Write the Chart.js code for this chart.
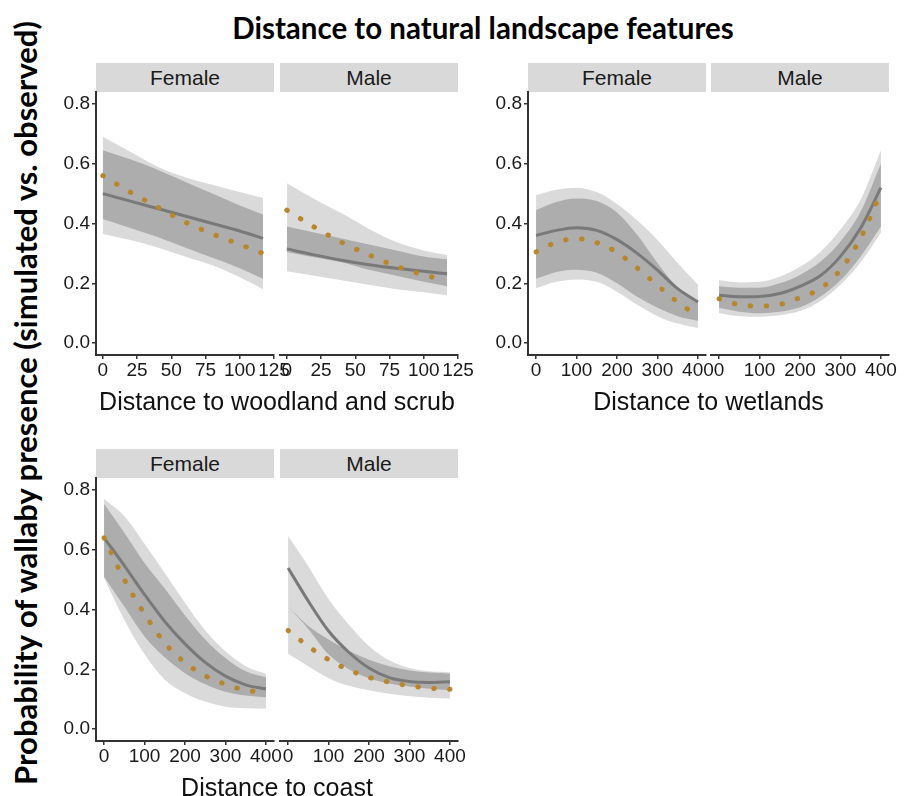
<!DOCTYPE html>
<html>
<head>
<meta charset="utf-8">
<script src="https://cdn.jsdelivr.net/npm/chart.js@4.4.1/dist/chart.umd.min.js"></script>
<style>
  body { margin: 0; width: 909px; height: 796px; position: relative; overflow: hidden; background: #fff; font-family: 'Liberation Sans', Arial, sans-serif; }
  canvas { position: absolute; }
  .strip { position: absolute; background: #d9d9d9; color: #1a1a1a; font-size: 21px; text-align: center; }
  .xtitle { position: absolute; font-size: 25px; color: #111; white-space: nowrap; transform: translate(-50%, -50%); }
  #title { position: absolute; left: 483px; top: 27px; transform: translate(-50%, -50%); font-family: Lato, sans-serif; font-weight: bold; font-size: 29.5px; white-space: nowrap; color: #000; }
  #ytitle { position: absolute; left: 25px; top: 403px; transform: translate(-50%, -50%) rotate(-90deg); font-family: Lato, sans-serif; font-weight: bold; font-size: 31px; white-space: nowrap; color: #000; }
</style>
</head>
<body>
<div id="title"></div>
<div id="ytitle"></div>
<script>
const mainTitle = 'Distance to natural landscape features'
const yTitle = 'Probability of wallaby presence (simulated vs. observed)'
const facets = ['Female', 'Male']
const xTitles = ['Distance to woodland and scrub', 'Distance to wetlands', 'Distance to coast']

// tick labels
const woodTicks = [0, 25, 50, 75, 100, 125]
const distTicks = [0, 100, 200, 300, 400]
const probTicks = [0, 0.2, 0.4, 0.6, 0.8]

const woodDist = [0, 20, 40, 60, 80, 100, 117]
const dist400 = [0, 50, 100, 150, 200, 250, 300, 350, 400]

// woodland and scrub - female
const woodF_sim = [0.50, 0.475, 0.45, 0.425, 0.40, 0.375, 0.35]
const woodF_obs = [0.56, 0.505, 0.455, 0.405, 0.365, 0.33, 0.30]
const woodF_outerLo = [0.365, 0.345, 0.32, 0.29, 0.26, 0.22, 0.18]
const woodF_outerHi = [0.69, 0.64, 0.59, 0.555, 0.53, 0.505, 0.485]
const woodF_innerLo = [0.415, 0.385, 0.355, 0.32, 0.285, 0.25, 0.215]
const woodF_innerHi = [0.645, 0.615, 0.58, 0.54, 0.5, 0.46, 0.43]

// woodland and scrub - male
const woodM_sim = [0.315, 0.295, 0.277, 0.262, 0.25, 0.24, 0.232]
const woodM_obs = [0.445, 0.388, 0.337, 0.295, 0.257, 0.228, 0.21]
const woodM_outerLo = [0.24, 0.225, 0.21, 0.195, 0.18, 0.17, 0.16]
const woodM_outerHi = [0.535, 0.482, 0.434, 0.382, 0.338, 0.31, 0.295]
const woodM_innerLo = [0.305, 0.287, 0.27, 0.245, 0.225, 0.205, 0.19]
const woodM_innerHi = [0.39, 0.37, 0.35, 0.33, 0.31, 0.29, 0.28]

// wetlands - female
const wetF_sim = [0.36, 0.377, 0.386, 0.377, 0.346, 0.30, 0.244, 0.182, 0.137]
const wetF_obs = [0.305, 0.337, 0.349, 0.336, 0.303, 0.251, 0.193, 0.137, 0.09]
const wetF_outerLo = [0.183, 0.205, 0.213, 0.205, 0.172, 0.128, 0.09, 0.065, 0.05]
const wetF_outerHi = [0.495, 0.513, 0.52, 0.505, 0.465, 0.41, 0.345, 0.268, 0.195]
const wetF_innerLo = [0.215, 0.238, 0.245, 0.235, 0.2, 0.155, 0.118, 0.09, 0.075]
const wetF_innerHi = [0.445, 0.472, 0.484, 0.475, 0.437, 0.362, 0.268, 0.185, 0.14]

// wetlands - male
const wetM_sim = [0.16, 0.155, 0.156, 0.166, 0.19, 0.225, 0.29, 0.385, 0.52]
const wetM_obs = [0.148, 0.128, 0.124, 0.129, 0.152, 0.182, 0.245, 0.352, 0.505]
const wetM_outerLo = [0.1, 0.09, 0.088, 0.093, 0.107, 0.14, 0.195, 0.27, 0.37]
const wetM_outerHi = [0.21, 0.203, 0.205, 0.222, 0.255, 0.305, 0.38, 0.48, 0.645]
const wetM_innerLo = [0.118, 0.105, 0.1, 0.105, 0.12, 0.155, 0.21, 0.29, 0.39]
const wetM_innerHi = [0.19, 0.185, 0.185, 0.2, 0.228, 0.272, 0.34, 0.44, 0.6]

// coast - female
const coastF_sim = [0.64, 0.547, 0.45, 0.36, 0.285, 0.223, 0.177, 0.148, 0.134]
const coastF_obs = [0.64, 0.50, 0.385, 0.288, 0.222, 0.178, 0.15, 0.13, 0.122]
const coastF_outerLo = [0.505, 0.365, 0.25, 0.165, 0.12, 0.092, 0.075, 0.07, 0.069]
const coastF_outerHi = [0.77, 0.713, 0.62, 0.522, 0.423, 0.33, 0.26, 0.21, 0.185]
const coastF_innerLo = [0.51, 0.41, 0.31, 0.24, 0.187, 0.15, 0.125, 0.112, 0.106]
const coastF_innerHi = [0.753, 0.657, 0.556, 0.47, 0.38, 0.30, 0.238, 0.193, 0.173]

// coast - male
const coastM_sim = [0.539, 0.428, 0.328, 0.257, 0.204, 0.172, 0.159, 0.156, 0.158]
const coastM_obs = [0.33, 0.277, 0.232, 0.198, 0.173, 0.157, 0.145, 0.137, 0.133]
const coastM_outerLo = [0.252, 0.21, 0.17, 0.145, 0.13, 0.118, 0.11, 0.105, 0.102]
const coastM_outerHi = [0.646, 0.545, 0.435, 0.35, 0.278, 0.23, 0.204, 0.193, 0.19]
const coastM_innerLo = [0.41, 0.335, 0.25, 0.2, 0.17, 0.152, 0.142, 0.135, 0.13]
const coastM_innerHi = [0.41, 0.345, 0.3, 0.262, 0.232, 0.21, 0.196, 0.189, 0.186]

// layout (px)
const FONT = "'Liberation Sans', Arial, sans-serif"
const PANEL_W = 178, PLOT_H = 263
const PAD_T = 16, PAD_R = 24, X_H = 34, Y_W = 40
const STRIP_H = 29

document.getElementById('title').textContent = mainTitle
document.getElementById('ytitle').textContent = yTitle

function addDiv(cls, text, css) {
    const d = document.createElement('div')
    d.className = cls
    d.textContent = text
    Object.assign(d.style, css)
    document.body.appendChild(d)
}

function drawPanel(left, top, showY, xs, xMin, xMax, xTicks, s) {
    const padL = showY ? 0 : 8
    const yW = showY ? Y_W : 0
    const canvas = document.createElement('canvas')
    canvas.width = PANEL_W + padL + yW + PAD_R
    canvas.height = PLOT_H + PAD_T + X_H
    canvas.style.left = (left - padL - yW) + 'px'
    canvas.style.top = (top - PAD_T) + 'px'
    document.body.appendChild(canvas)

    const pts = arr => xs.map((x, i) => ({ x: x, y: arr[i] }))
    const band = (arr, fill, color, order) => ({
        data: pts(arr), fill: fill, backgroundColor: color, borderWidth: 0,
        pointRadius: 0, order: order, cubicInterpolationMode: 'monotone'
    })

    new Chart(canvas, {
        type: 'line',
        data: {
            datasets: [
                band(s.outerLo, false, 'transparent', 4),
                band(s.outerHi, '-1', '#dadada', 4),
                band(s.innerLo, false, 'transparent', 3),
                band(s.innerHi, '-1', '#adadad', 3),
                { data: pts(s.sim), borderColor: '#797979', borderWidth: 3, pointRadius: 0, order: 2, fill: false, cubicInterpolationMode: 'monotone' },
                { data: pts(s.obs), borderColor: '#b8862b', borderWidth: 5, borderDash: [0.5, 15.5], borderCapStyle: 'round', pointRadius: 0, order: 1, fill: false, cubicInterpolationMode: 'monotone' }
            ]
        },
        options: {
            responsive: false,
            animation: false,
            devicePixelRatio: 1,
            layout: { padding: { left: padL, right: PAD_R, top: PAD_T, bottom: 0 } },
            plugins: { legend: { display: false }, tooltip: { enabled: false } },
            scales: {
                x: {
                    type: 'linear', min: xMin, max: xMax,
                    afterBuildTicks: sc => { sc.ticks = xTicks.map(v => ({ value: v })) },
                    afterFit: sc => { sc.height = X_H },
                    grid: { drawOnChartArea: false, drawTicks: true, tickLength: 4, color: '#333', lineWidth: 1.5 },
                    border: { display: true, color: '#333', width: 2 },
                    ticks: { font: { family: FONT, size: 19 }, color: '#1a1a1a', padding: 0, maxRotation: 0, autoSkip: false }
                },
                y: {
                    display: showY, min: -0.04, max: 0.84,
                    afterBuildTicks: sc => { sc.ticks = probTicks.map(v => ({ value: v })) },
                    afterFit: sc => { sc.width = showY ? Y_W : 0 },
                    grid: { drawOnChartArea: false, drawTicks: true, tickLength: 4, color: '#333', lineWidth: 1.5 },
                    border: { display: true, color: '#333', width: 2 },
                    ticks: { font: { family: FONT, size: 19 }, color: '#1a1a1a', padding: 2, callback: v => v.toFixed(1) }
                }
            }
        }
    })
}

// panel positions
const rowTop = [92, 478]
const groupLeft = [[96, 280], [528, 711]]

const groups = [
    { row: 0, col: 0, xs: woodDist, xMin: -5, xMax: 125, ticks: woodTicks, title: xTitles[0],
      series: [
        { sim: woodF_sim, obs: woodF_obs, outerLo: woodF_outerLo, outerHi: woodF_outerHi, innerLo: woodF_innerLo, innerHi: woodF_innerHi },
        { sim: woodM_sim, obs: woodM_obs, outerLo: woodM_outerLo, outerHi: woodM_outerHi, innerLo: woodM_innerLo, innerHi: woodM_innerHi }
      ] },
    { row: 0, col: 1, xs: dist400, xMin: -20, xMax: 420, ticks: distTicks, title: xTitles[1],
      series: [
        { sim: wetF_sim, obs: wetF_obs, outerLo: wetF_outerLo, outerHi: wetF_outerHi, innerLo: wetF_innerLo, innerHi: wetF_innerHi },
        { sim: wetM_sim, obs: wetM_obs, outerLo: wetM_outerLo, outerHi: wetM_outerHi, innerLo: wetM_innerLo, innerHi: wetM_innerHi }
      ] },
    { row: 1, col: 0, xs: dist400, xMin: -20, xMax: 420, ticks: distTicks, title: xTitles[2],
      series: [
        { sim: coastF_sim, obs: coastF_obs, outerLo: coastF_outerLo, outerHi: coastF_outerHi, innerLo: coastF_innerLo, innerHi: coastF_innerHi },
        { sim: coastM_sim, obs: coastM_obs, outerLo: coastM_outerLo, outerHi: coastM_outerHi, innerLo: coastM_innerLo, innerHi: coastM_innerHi }
      ] }
]

for (const g of groups) {
    const top = rowTop[g.row]
    for (let k = 0; k < 2; k++) {
        const left = groupLeft[g.col][k]
        addDiv('strip', facets[k], {
            left: left + 'px', top: (top - STRIP_H) + 'px',
            width: PANEL_W + 'px', height: STRIP_H + 'px', lineHeight: STRIP_H + 'px'
        })
        drawPanel(left, top, k === 0, g.xs, g.xMin, g.xMax, g.ticks, g.series[k])
    }
    const l = groupLeft[g.col][0], r = groupLeft[g.col][1] + PANEL_W
    addDiv('xtitle', g.title, { left: ((l + r) / 2) + 'px', top: (top + PLOT_H + 46) + 'px' })
}
</script>
</body>
</html>
